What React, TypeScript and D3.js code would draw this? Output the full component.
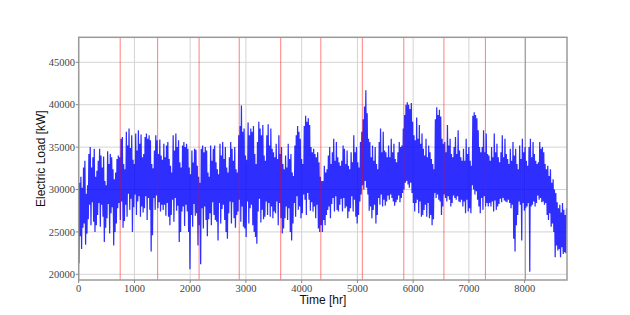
import React, { useEffect, useRef } from 'react';
import * as d3 from 'd3';

// daily peak load [kW] (365 days)
const dailyPeaks = [
  30800, 31500, 30200, 32600, 33400, 29500, 30500,
  34200, 35000, 32600, 33800, 34800, 31500, 32200,
  33400, 34800, 34000, 32600, 33900, 31000, 30500,
  34500, 33000, 34200, 33800, 32400, 31200, 32000,
  33600, 34000, 33800, 36000, 36200, 33000, 32400,
  36800, 35200, 37200, 34900, 36400, 33500, 33000,
  36600, 34600, 37000, 35400, 36500, 33800, 34200,
  36200, 36600, 36000, 36400, 35800, 33000, 32500,
  34600, 36400, 35800, 34200, 35900, 34000, 33500,
  35400, 33800, 35200, 35600, 33600, 32800, 32000,
  36400, 34600, 36600, 35000, 35800, 33200, 32600,
  35200, 35600, 35000, 35400, 34800, 32600, 31800,
  34600, 33200, 34800, 34700, 32800, 31500, 30800,
  34800, 35200, 34400, 35000, 34600, 32000, 31500,
  35200, 33400, 34800, 35200, 33200, 32400, 31800,
  35400, 34000, 35600, 33600, 35000, 32600, 32000,
  33800, 35600, 34800, 33400, 35000, 32400, 32000,
  36400, 37500, 39900, 36800, 37200, 34000, 33500,
  37900, 36400, 37200, 36800, 37500, 34200, 33000,
  35600, 38000, 37200, 36400, 37600, 34000, 33400,
  36400, 37700, 35200, 37200, 34800, 34400, 33800,
  35400, 33600, 36400, 34200, 35000, 33000, 32400,
  34000, 32600, 35400, 33600, 34200, 32000, 31600,
  35200, 36400, 37500, 36800, 36000, 33600, 33000,
  37500, 38700, 38000, 38400, 37600, 35000, 34400,
  34800, 34200, 33800, 34400, 33200, 31500, 31000,
  31000, 32800, 32000, 32400, 34000, 35000, 33000,
  34400, 36000, 33400, 35600, 33800, 33200, 32800,
  33400, 35200, 34800, 33000, 34600, 32800, 32400,
  34400, 33200, 36400, 34400, 35000, 33200, 32600,
  35600, 36800, 38300, 39800, 41700, 39000, 36000,
  35600, 33800, 35200, 33400, 35000, 33000, 32400,
  35600, 37200, 34400, 36800, 34600, 34400, 33800,
  35200, 33800, 36000, 34400, 35400, 33600, 33200,
  34400, 35600, 35000, 35200, 37200, 38800, 40000,
  40300, 40000, 39500, 40200, 38000, 36400, 35800,
  38500, 36000, 37600, 35400, 36600, 34800, 34000,
  36000, 33800, 35200, 34400, 33600, 33000, 32400,
  38300, 39700, 38800, 39400, 38600, 36000, 35400,
  35600, 34400, 37600, 35200, 36000, 34200, 33800,
  35000, 36200, 34200, 37000, 34600, 33800, 33400,
  34800, 33400, 36000, 34200, 35000, 33400, 32800,
  38700, 39100, 38800, 38400, 37000, 35000, 34400,
  35000, 37000, 34400, 36600, 34200, 34000, 33400,
  35000, 33800, 36600, 34400, 35400, 33800, 33200,
  34400, 36400, 33800, 36000, 34200, 33600, 33000,
  34800, 33400, 35600, 34000, 34800, 33000, 32400,
  35200, 33600, 36000, 34400, 35000, 33400, 32800,
  35000, 36000, 33800, 35600, 34200, 33400, 33000,
  33200, 35600, 34800, 35000, 34400, 33000, 32400,
  32800, 31600, 32400, 30800, 31200, 30000, 29600,
  28500, 27800, 28200, 27300, 28400, 27600, 27000,
  27800
];

// daily minimum load [kW] (365 days)
const dailyTroughs = [
  21300, 24500, 23000, 25500, 26000, 23500, 24800,
  26500, 28200, 25800, 28500, 26200, 25000, 25800,
  27000, 28400, 25600, 28200, 26800, 23800, 25500,
  26600, 28300, 24800, 27200, 27900, 23400, 25000,
  26000, 27800, 28400, 26400, 28600, 25500, 26300,
  28200, 26800, 29500, 27600, 28900, 25000, 27900,
  29400, 27000, 28600, 29200, 26800, 28000, 27300,
  27800, 29200, 26400, 29000, 27600, 22700, 24600,
  29000, 27600, 29300, 27800, 28500, 27400, 28200,
  27600, 28200, 26900, 28400, 26800, 25800, 27000,
  28800, 26200, 29000, 27500, 28100, 23800, 25000,
  27400, 28000, 25700, 28200, 27400, 25000, 20600,
  27000, 25600, 28300, 26900, 27200, 23400, 25800,
  21200, 27800, 25400, 28000, 26400, 24500, 26500,
  27200, 25800, 28500, 27000, 26400, 26200, 24000,
  28400, 26000, 27700, 28200, 26400, 25000, 24200,
  27200, 28600, 26000, 28500, 26600, 25500, 27000,
  27400, 28800, 26200, 28000, 25600, 25400, 24400,
  28600, 26000, 27800, 28200, 25800, 25000, 24400,
  23600, 27400, 28900, 26100, 27600, 26500, 26800,
  28600, 27000, 28400, 26800, 28000, 26600, 27400,
  27200, 28600, 25800, 28400, 26600, 24800, 25400,
  26600, 28000, 26400, 27800, 25000, 24000, 26000,
  28400, 26800, 29200, 27600, 28000, 26600, 27200,
  29400, 28800, 27000, 29600, 28800, 27500, 28500,
  27400, 28000, 26600, 28200, 25400, 25000, 25800,
  25000, 26400, 25800, 27000, 27600, 28000, 26600,
  28300, 29000, 27400, 29200, 27600, 27400, 28200,
  28900, 27400, 29000, 27800, 28000, 26600, 27400,
  27800, 29200, 27400, 28800, 26800, 26000, 27000,
  28600, 29400, 30500, 30000, 31000, 30200, 29400,
  27500, 28000, 26600, 27600, 28200, 26000, 27000,
  29000, 28200, 29400, 28000, 28800, 28100, 28600,
  29300, 28800, 29400, 29000, 28600, 28100, 28500,
  28800, 29300, 28500, 29000, 29600, 30000, 30800,
  31000, 30600, 30200, 30800, 29600, 28400, 27400,
  28400, 28800, 27200, 28600, 26800, 27000, 27600,
  28200, 26800, 28400, 26600, 27000, 25800, 26500,
  29600, 29000, 29400, 28800, 28600, 27000, 28000,
  29400, 29000, 28600, 29200, 28800, 28000, 28400,
  29300, 29000, 28800, 29200, 28600, 28500, 28800,
  28000, 28600, 27200, 28800, 27400, 27800, 27200,
  30500, 30000, 29400, 29800, 28800, 28000, 27200,
  29000, 27600, 29200, 28000, 28400, 28000, 28400,
  28000, 28600, 27400, 28700, 27600, 28000, 28300,
  28900, 28500, 29000, 28700, 28600, 28500, 28800,
  28400, 27800, 28200, 24200, 22700, 25800, 27000,
  28600, 28200, 24000, 28400, 27500, 27800, 28000,
  28400, 20300, 28000, 28200, 28600, 28000, 28400,
  29300, 28800, 29000, 28500, 28600, 28200, 28400,
  27000, 26400, 27200, 25600, 26000, 25000, 22000,
  23400, 22800, 23000, 22000, 23200, 22400, 22600,
  22500
];

// hours at which each month ends
const monthEnds = [744, 1416, 2160, 2880, 3624, 4344, 5088, 5832, 6552, 7296, 8016];

const xTicks = [0, 1000, 2000, 3000, 4000, 5000, 6000, 7000, 8000];
const yTicks = [20000, 25000, 30000, 35000, 40000, 45000];

function App() {
  const ref = useRef<SVGSVGElement>(null);

  useEffect(() => {
    const svg = d3.select(ref.current);
    svg.selectAll('*').remove();

    const left = 78.7, right = 567, top = 37.3, bottom = 280;

    const x = d3.scaleLinear().domain([0, 8760]).range([left, right]);
    const y = d3.scaleLinear().domain([19330, 47950]).range([bottom, top]);

    // hourly series: night low, afternoon high
    const series: { t: number; v: number }[] = [];
    dailyPeaks.forEach((p, i) => {
      series.push({ t: i * 24 + 4, v: dailyTroughs[i] });
      series.push({ t: i * 24 + 15, v: p });
    });

    // grid
    const grid = svg.append('g');
    grid.selectAll('.gx')
      .data(xTicks)
      .enter()
      .append('line')
      .attr('x1', d => x(d)).attr('x2', d => x(d))
      .attr('y1', top).attr('y2', bottom)
      .attr('stroke', '#d4d4d4').attr('stroke-width', 1);
    grid.selectAll('.gy')
      .data(yTicks)
      .enter()
      .append('line')
      .attr('x1', left).attr('x2', right)
      .attr('y1', d => y(d)).attr('y2', d => y(d))
      .attr('stroke', '#d4d4d4').attr('stroke-width', 1);

    // load line
    const line = d3.line<{ t: number; v: number }>()
      .x(d => x(d.t))
      .y(d => y(d.v));
    svg.append('path')
      .datum(series)
      .attr('d', line)
      .attr('fill', 'none')
      .attr('stroke', '#0000ff')
      .attr('stroke-opacity', 0.82)
      .attr('stroke-width', 1.25);

    // month separators
    svg.append('g')
      .selectAll('line')
      .data(monthEnds)
      .enter()
      .append('line')
      .attr('x1', d => x(d)).attr('x2', d => x(d))
      .attr('y1', top).attr('y2', bottom)
      .attr('stroke', 'red')
      .attr('stroke-opacity', 0.5)
      .attr('stroke-width', 1);

    // frame
    svg.append('rect')
      .attr('x', left).attr('y', top)
      .attr('width', right - left).attr('height', bottom - top)
      .attr('fill', 'none')
      .attr('stroke', '#9a9a9a')
      .attr('stroke-width', 1.5);

    // tick marks + labels
    const tickFont = '"Liberation Serif", serif';
    svg.append('g')
      .selectAll('text')
      .data(xTicks)
      .enter()
      .append('text')
      .attr('x', d => x(d))
      .attr('y', 292)
      .attr('text-anchor', 'middle')
      .attr('font-family', tickFont)
      .attr('font-size', 10.5)
      .attr('fill', '#444')
      .text(d => String(d));
    svg.append('g')
      .selectAll('line')
      .data(xTicks)
      .enter()
      .append('line')
      .attr('x1', d => x(d)).attr('x2', d => x(d))
      .attr('y1', bottom).attr('y2', bottom + 3)
      .attr('stroke', '#888');

    svg.append('g')
      .selectAll('text')
      .data(yTicks)
      .enter()
      .append('text')
      .attr('x', 75)
      .attr('y', d => y(d) + 3.6)
      .attr('text-anchor', 'end')
      .attr('font-family', tickFont)
      .attr('font-size', 10.5)
      .attr('fill', '#444')
      .text(d => String(d));
    svg.append('g')
      .selectAll('line')
      .data(yTicks)
      .enter()
      .append('line')
      .attr('x1', left - 3).attr('x2', left)
      .attr('y1', d => y(d)).attr('y2', d => y(d))
      .attr('stroke', '#888');

    // axis titles
    svg.append('text')
      .attr('x', (left + right) / 2)
      .attr('y', 304)
      .attr('text-anchor', 'middle')
      .attr('font-family', '"Liberation Sans", sans-serif')
      .attr('font-size', 12)
      .attr('fill', '#111')
      .text('Time [hr]');
    svg.append('text')
      .attr('transform', `translate(45, ${(top + bottom) / 2}) rotate(-90)`)
      .attr('text-anchor', 'middle')
      .attr('font-family', '"Liberation Sans", sans-serif')
      .attr('font-size', 12)
      .attr('fill', '#111')
      .text('Electric Load [kW]');
  }, []);

  return (
    <svg ref={ref} width={630} height={315}
         style={{ position: 'absolute', left: 0, top: 0, background: '#fff' }} />
  );
}

export default App;
